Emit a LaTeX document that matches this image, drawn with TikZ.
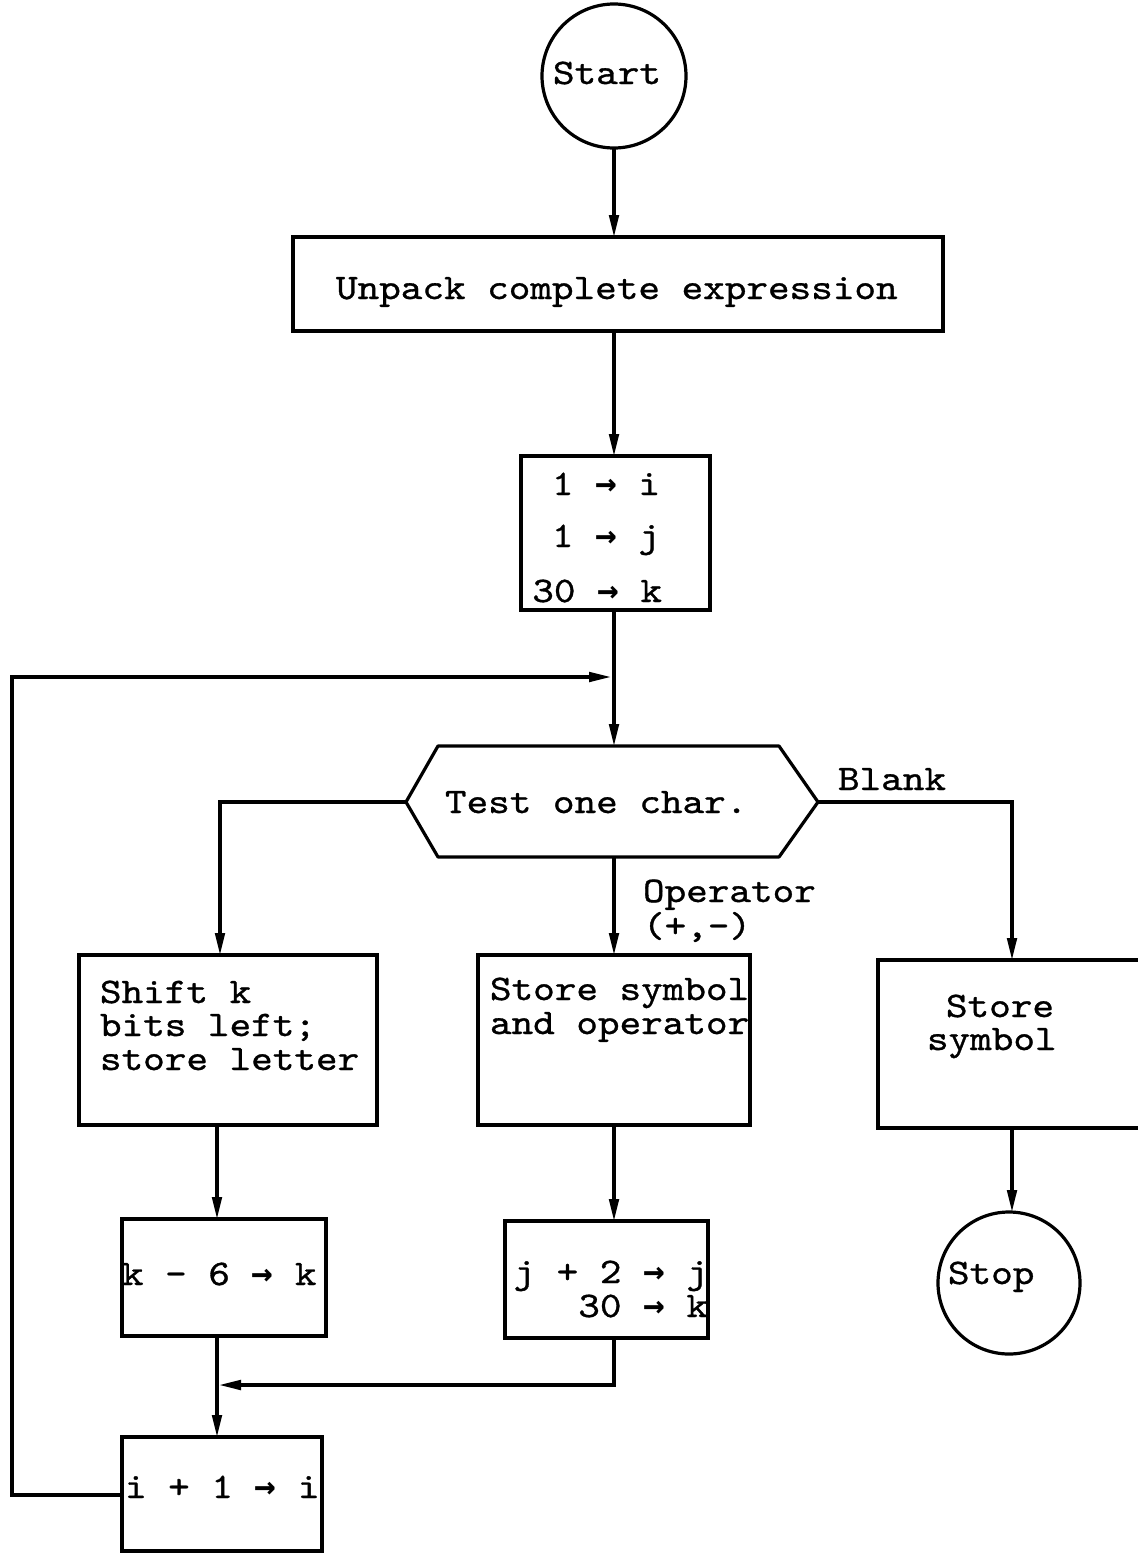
\documentclass[tikz,border=0pt]{standalone}
\usepackage{fontspec}
\newfontfamily\tm{lmmono10-regular}[Extension=.otf, FakeBold=0.9, FakeStretch=1.143]
\newfontfamily\arrowfont{DejaVu Sans Mono Bold}
\newcommand{\myarr}{{\arrowfont\fontsize{18}{18}\selectfont →}}
\usetikzlibrary{arrows.meta}
\begin{document}
\begin{tikzpicture}[x=0.5pt,y=-0.5pt,
  box/.style={draw, line width=1.6pt, inner sep=0pt, outer sep=0pt},
  circ/.style={box, circle},
  txt/.style={inner sep=0pt, outer sep=0pt, font=\tm\fontsize{18}{18}\selectfont},
  ln/.style={line width=1.6pt},
  arr/.style={line width=1.6pt, -{Triangle[length=11pt,width=4.8pt]}}]
\useasboundingbox[fill=white] (0,0) rectangle (1138,1553);

% shapes
\node[circ, minimum size=72pt] (start) at (614,76) {};
\node[box, minimum width=325pt, minimum height=47pt] (unpack) at (618,284) {};
\node[box, minimum width=94.5pt, minimum height=77pt] (init) at (615.5,533) {};
\coordinate (hexL) at (406,802);
\coordinate (hexR) at (818,802);
\coordinate (hexT) at (614,746);
\coordinate (hexB) at (614,857);
\draw[ln, line join=round] (hexL) -- (438,746) -- (779,746) -- (hexR) -- (779,857) -- (438,857) -- cycle;
\node[box, minimum width=149pt, minimum height=85pt] (shift) at (228,1040) {};
\node[box, minimum width=136pt, minimum height=85pt] (storeop) at (614,1040) {};
\node[box, minimum width=141pt, minimum height=84pt] (storesym) at (1019,1044) {};
\node[box, minimum width=102pt, minimum height=58.5pt] (kbox) at (224,1277.5) {};
\node[box, minimum width=101.5pt, minimum height=58.5pt] (jbox) at (606.5,1279.5) {};
\node[box, minimum width=100pt, minimum height=57pt] (ibox) at (222,1494) {};
\node[circ, minimum size=71pt] (stop) at (1009,1283) {};

% texts
\node[txt, anchor=base west] (tstart) at (553,84) {Start};
\node[txt, anchor=base west] (tunpack) at (336,299) {Unpack complete expression};
\node[txt, anchor=base east] (ti1) at (660,495) {1 \myarr{} i};
\node[txt, anchor=base east] (ti2) at (660,547) {1 \myarr{} j};
\node[txt, anchor=base east] (ti3) at (662,602) {30 \myarr{} k};
\node[txt, anchor=base west] (ttest) at (445,813) {Test one char.};
\node[txt, anchor=base west] (tblank) at (838,790) {Blank};
\node[txt, anchor=base west] (top1) at (643,902) {Operator};
\node[txt, anchor=base west] (top2) at (643,937) {(+,-)};
\node[txt, anchor=base west] (ts1) at (100,1003) {Shift k};
\node[txt, anchor=base west] (ts2) at (100,1036) {bits left;};
\node[txt, anchor=base west] (ts3) at (100,1070) {store letter};
\node[txt, anchor=base west] (to1) at (490,1000) {Store symbol};
\node[txt, anchor=base west] (to2) at (490,1034) {and operator};
\node[txt, anchor=base west] (tss1) at (946,1017) {Store};
\node[txt, anchor=base west] (tss2) at (927,1050) {symbol};
\node[txt, anchor=base west] (tk) at (122,1285) {k - 6 \myarr{} k};
\node[txt, anchor=base east] (tj1) at (708,1283) {j + 2 \myarr{} j};
\node[txt, anchor=base east] (tj2) at (708,1317) {30 \myarr{} k};
\node[txt, anchor=base west] (ti) at (125,1498) {i + 1 \myarr{} i};
\node[txt, anchor=base west] (tstop) at (948,1284) {Stop};

% connectors
\draw[arr] (start.south) -- (start.south |- unpack.north);
\draw[arr] (614,331) coordinate (u1) -- (u1 |- init.north);
\coordinate (J1) at (614,677);
\coordinate (J1in) at (611,677);
\draw[arr] (init.south -| hexT) -- (hexT);
\coordinate (loopB) at (12,1495);
\coordinate (loopT) at (12,677);
\draw[arr] (ibox.west |- loopB) -- (loopB) -- (loopT) -- (J1in);

\coordinate (brL) at (220,802);
\draw[arr] (hexL) -- (brL) -- (brL |- shift.north);
\coordinate (brR) at (1012,802);
\draw[arr] (hexR) -- (brR) -- (brR |- storesym.north);
\draw[arr] (hexB) -- (hexB |- storeop.north);

\coordinate (c1) at (217,1125);
\draw[arr] (c1) -- (c1 |- kbox.north);
\coordinate (c2) at (614,1125);
\draw[arr] (c2) -- (c2 |- jbox.north);
\coordinate (c3) at (1012,1128);
\draw[arr] (c3) -- (c3 |- stop.north);

\coordinate (c4) at (217,1336);
\draw[arr] (c4) -- (c4 |- ibox.north);
\coordinate (jb) at (614,1338);
\coordinate (mR) at (614,1385);
\coordinate (mL) at (219,1385);
\draw[arr] (jb) -- (mR) -- (mL);
\end{tikzpicture}
\end{document}
